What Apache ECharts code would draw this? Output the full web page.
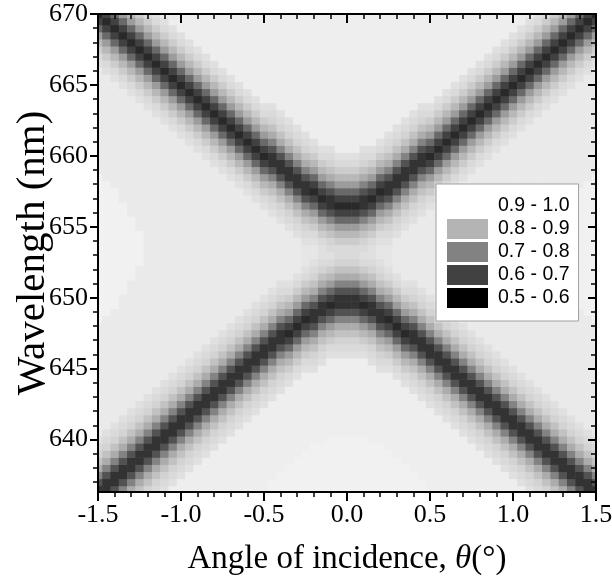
<!DOCTYPE html>
<html>
<head>
<meta charset="utf-8">
<title>Reflectance map</title>
<script src="https://cdn.jsdelivr.net/npm/echarts@6/dist/echarts.min.js"></script>
<style>
  html, body { margin: 0; padding: 0; background: #fff; }
  #chart { width: 612px; height: 582px; }
</style>
</head>
<body>
<div id="chart"></div>
<script>
// angle of incidence (deg), one per column of the map
const ANGLES = [-1.5, -1.45, -1.4, -1.35, -1.3, -1.25, -1.2, -1.15, -1.1, -1.05,
  -1, -0.95, -0.9, -0.85, -0.8, -0.75, -0.7, -0.65, -0.6, -0.55,
  -0.5, -0.45, -0.4, -0.35, -0.3, -0.25, -0.2, -0.15, -0.1, -0.05,
  0, 0.05, 0.1, 0.15, 0.2, 0.25, 0.3, 0.35, 0.4, 0.45,
  0.5, 0.55, 0.6, 0.65, 0.7, 0.75, 0.8, 0.85, 0.9, 0.95,
  1, 1.05, 1.1, 1.15, 1.2, 1.25, 1.3, 1.35, 1.4, 1.45, 1.5]

// wavelength (nm), one per row, bottom to top
const WAVELENGTHS = [636.5, 637, 637.5, 638, 638.5, 639, 639.5, 640, 640.5, 641,
  641.5, 642, 642.5, 643, 643.5, 644, 644.5, 645, 645.5, 646,
  646.5, 647, 647.5, 648, 648.5, 649, 649.5, 650, 650.5, 651,
  651.5, 652, 652.5, 653, 653.5, 654, 654.5, 655, 655.5, 656,
  656.5, 657, 657.5, 658, 658.5, 659, 659.5, 660, 660.5, 661,
  661.5, 662, 662.5, 663, 663.5, 664, 664.5, 665, 665.5, 666,
  666.5, 667, 667.5, 668, 668.5, 669, 669.5, 670]

// reflectance of each shade code used in COLUMNS
const LEVELS = {
  0: 0.58, 1: 0.60, 2: 0.64, 3: 0.69, 4: 0.74, 5: 0.79, 6: 0.84, 7: 0.87, 8: 0.895, 9: 0.91,
  a: 0.925, b: 0.935, c: 0.945, d: 0.955, e: 0.963, f: 0.969, g: 0.975, h: 0.979
}

// one string per angle (same order as ANGLES), shades read bottom to top, 'x*n' = n cells of x
const COLUMNS = [
  '13579bcd f*16 h*21 f*15 dca86420', // -1.50
  '113579bcd f*16 h*19 f*15 dca864202',
  '3113579bcd f*16 h*17 f*15 dca8642024',
  '53113579bcd f*17 h*13 f*16 dca86420246',
  '753113579bcd f*18 h*9 f*17 dca864202468',
  '9753113579bcd f*19 h*5 f*18 dca864202468a',
  'b9753113579bcd f*40 dca864202468ac',
  'cb9753113579bcd f*38 dca864202468acd',
  'dcb9753113579bcd f*36 dca864202468acd g*1',
  'g*1 dcb9753113579bcd f*34 dca864202468acd g*2',
  'g*2 dcb9753113579bcd f*32 dca864202468acd g*3', // -1.00
  'g*3 dcb9753113579bcd f*30 dca864202468acd g*4',
  'g*4 dcb9753113579bcd f*28 dca864202468acd g*5',
  'g*5 dcb9753113579bcd f*26 dca864202468acd g*6',
  'g*6 dcb9753113579bcd f*24 dca864202468acd g*7',
  'g*7 dcb9753113579bcd f*22 dca864202468acd g*8',
  'g*8 dcb9753113579bcd f*20 dca864202468acd g*9',
  'g*9 dcb9753113579bcd f*18 dca864202468acd g*10',
  'g*10 dcb9753113579bcd f*16 dca864202468acd g*11',
  'g*11 dcb9753113579bcd f*14 dca864202468acd g*12',
  'g*12 dcb9753113579bcd f*12 dca864202468acd g*13', // -0.50
  'h*2 g*11 dcb9753113579bcd f*10 dcb9753113579bcd g*13',
  'h*3 g*11 dcb9753113579bcd f*8 dcb9753113579bcd g*14',
  'h*4 g*11 dca864202468acd f*7 dcb9753113579bcd g*15',
  'h*5 g*11 dca864202468acd f*5 dcb9753113579bcd g*16',
  'h*6 g*11 dca864202468acd e*3 dcb9753113579bcd g*17',
  'h*7 g*10 dcb9753113579bcd e*2 dca864202468acd g*18',
  'h*7 g*11 dcb9753113579bcd dca864202468acd g*19',
  'h*8 g*11 dca864202468ac d cb9753113579bcd g*19',
  'h*8 g*11 dcb9753113579b c*2 a864202468acd g*20',
  'h*8 g*11 dcb9753113579b c*2 a864202468acd g*20', // 0.00
  'h*8 g*11 dcb9753113579b c*2 a864202468acd g*20',
  'h*8 g*11 dca864202468ac d cb9753113579bcd g*19',
  'h*7 g*11 dcb9753113579bcd dca864202468acd g*19',
  'h*7 g*10 dcb9753113579bcd e*2 dca864202468acd g*18',
  'h*6 g*11 dca864202468acd e*3 dcb9753113579bcd g*17',
  'h*5 g*11 dca864202468acd f*5 dcb9753113579bcd g*16',
  'h*4 g*11 dca864202468acd f*7 dcb9753113579bcd g*15',
  'h*3 g*11 dcb9753113579bcd f*8 dcb9753113579bcd g*14',
  'h*2 g*11 dcb9753113579bcd f*10 dcb9753113579bcd g*13',
  'g*12 dcb9753113579bcd f*12 dca864202468acd g*13', // 0.50
  'g*11 dcb9753113579bcd f*14 dca864202468acd g*12',
  'g*10 dcb9753113579bcd f*16 dca864202468acd g*11',
  'g*9 dcb9753113579bcd f*18 dca864202468acd g*10',
  'g*8 dcb9753113579bcd f*20 dca864202468acd g*9',
  'g*7 dcb9753113579bcd f*22 dca864202468acd g*8',
  'g*6 dcb9753113579bcd f*24 dca864202468acd g*7',
  'g*5 dcb9753113579bcd f*26 dca864202468acd g*6',
  'g*4 dcb9753113579bcd f*28 dca864202468acd g*5',
  'g*3 dcb9753113579bcd f*30 dca864202468acd g*4',
  'g*2 dcb9753113579bcd f*32 dca864202468acd g*3', // 1.00
  'g*1 dcb9753113579bcd f*34 dca864202468acd g*2',
  'dcb9753113579bcd f*36 dca864202468acd g*1',
  'cb9753113579bcd f*38 dca864202468acd',
  'b9753113579bcd f*40 dca864202468ac',
  '9753113579bcd f*19 h*5 f*18 dca864202468a',
  '753113579bcd f*18 h*9 f*17 dca864202468',
  '53113579bcd f*17 h*13 f*16 dca86420246',
  '3113579bcd f*16 h*17 f*15 dca8642024',
  '113579bcd f*16 h*19 f*15 dca864202',
  '13579bcd f*16 h*21 f*15 dca86420' // 1.50
]

const Y_MAJOR = [640, 645, 650, 655, 660, 665, 670]
const Y_MINOR = [637, 638, 639, 641, 642, 643, 644, 646, 647, 648, 649, 651, 652, 653, 654,
  656, 657, 658, 659, 661, 662, 663, 664, 666, 667, 668, 669]

const LEGEND_NAMES = ['0.9 - 1.0', '0.8 - 0.9', '0.7 - 0.8', '0.6 - 0.7', '0.5 - 0.6']
const LEGEND_COLORS = ['#ffffff', '#b4b4b4', '#828282', '#414141', '#000000']

const ANGLE_STEP = 0.05
const WL_STEP = 0.5
const SERIF = 'Liberation Serif'

function unpack (col) {
  return col.split(' ').map(function (tok) {
    const p = tok.split('*')
    return p.length === 2 ? p[0].repeat(+p[1]) : tok
  }).join('')
}

const cells = []
COLUMNS.forEach(function (col, c) {
  const codes = unpack(col)
  for (let r = 0; r < WAVELENGTHS.length; r++) {
    cells.push([ANGLES[c], WAVELENGTHS[r], LEVELS[codes[r]]])
  }
})

function renderCell (params, api) {
  const x = api.value(0)
  const y = api.value(1)
  const p0 = api.coord([x - ANGLE_STEP / 2, y + WL_STEP / 2])
  const p1 = api.coord([x + ANGLE_STEP / 2, y - WL_STEP / 2])
  return {
    type: 'rect',
    shape: { x: p0[0], y: p0[1], width: p1[0] - p0[0] + 0.6, height: p1[1] - p0[1] + 0.6 },
    style: { fill: api.visual('color') }
  }
}

const black = '#000'
function xAxisCfg (pos) {
  const bottom = pos === 'bottom'
  return {
    type: 'value', position: pos, min: -1.5, max: 1.5, interval: 0.5, z: 5,
    axisLine: { onZero: false, lineStyle: { color: black, width: 2 } },
    axisTick: { inside: !bottom, length: 9, lineStyle: { color: black, width: 2 } },
    minorTick: { show: true, splitNumber: 5, length: 5, lineStyle: { color: black, width: 1.5 } },
    axisLabel: {
      show: bottom, margin: 10, color: black, fontFamily: SERIF, fontSize: 26,
      showMinLabel: true, showMaxLabel: true,
      formatter: function (v) { return v.toFixed(1) }
    },
    splitLine: { show: false },
    name: bottom ? 'Angle of incidence, {i|θ}(°)' : '',
    nameLocation: 'middle',
    nameGap: 51,
    nameMoveOverlap: false,
    nameTextStyle: {
      color: black, fontFamily: SERIF, fontSize: 33,
      rich: { i: { color: black, fontFamily: SERIF, fontSize: 33, fontStyle: 'italic' } }
    }
  }
}

function yAxisCfg (pos, ticks, len, withLine, withLabels) {
  return {
    type: 'value', position: pos, min: 636.3, max: 670, z: 5,
    axisLine: { show: withLine, onZero: false, lineStyle: { color: black, width: 2 } },
    axisTick: { inside: pos === 'right', length: len, customValues: ticks, lineStyle: { color: black, width: len > 6 ? 2 : 1.5 } },
    axisLabel: { show: withLabels, customValues: Y_MAJOR, margin: 10, color: black, fontFamily: SERIF, fontSize: 26 },
    splitLine: { show: false },
    name: withLabels ? 'Wavelength (nm)' : '',
    nameLocation: 'middle',
    nameGap: 44,
    nameMoveOverlap: false,
    nameTextStyle: { color: black, fontFamily: SERIF, fontSize: 41 }
  }
}

const legendSeries = LEGEND_NAMES.map(function (name, i) {
  return { name: name, type: 'bar', data: [], itemStyle: { color: LEGEND_COLORS[i] } }
})

const chart = echarts.init(document.getElementById('chart'))
chart.setOption({
  animation: false,
  backgroundColor: '#fff',
  grid: { left: 98, top: 14, width: 498, height: 478, outerBoundsMode: 'none', containLabel: false },
  xAxis: [xAxisCfg('bottom'), xAxisCfg('top')],
  yAxis: [
    yAxisCfg('left', Y_MAJOR, 8, true, true),
    yAxisCfg('left', Y_MINOR, 5, false, false),
    yAxisCfg('right', Y_MAJOR, 8, true, false),
    yAxisCfg('right', Y_MINOR, 5, false, false)
  ],
  visualMap: {
    type: 'continuous', show: false, seriesIndex: 0, dimension: 2, min: 0.5, max: 1.0,
    inRange: { color: ['#000000', '#333333', '#555555', '#888888', '#bbbbbb', '#ffffff'] }
  },
  legend: {
    data: LEGEND_NAMES, orient: 'vertical', left: 436, top: 184,
    itemWidth: 41, itemHeight: 20, itemGap: 3, icon: 'rect',
    padding: [12, 9, 13, 11], backgroundColor: '#fff', borderColor: '#a0a0a0', borderWidth: 1,
    selectedMode: false,
    textStyle: { color: black, fontFamily: 'Liberation Sans', fontSize: 19.5, padding: [0, 0, 0, 5] }
  },
  series: [
    {
      type: 'custom', renderItem: renderCell, data: cells, encode: { x: 0, y: 1 },
      clip: true, silent: true, progressive: 0
    }
  ].concat(legendSeries)
})
</script>
</body>
</html>
